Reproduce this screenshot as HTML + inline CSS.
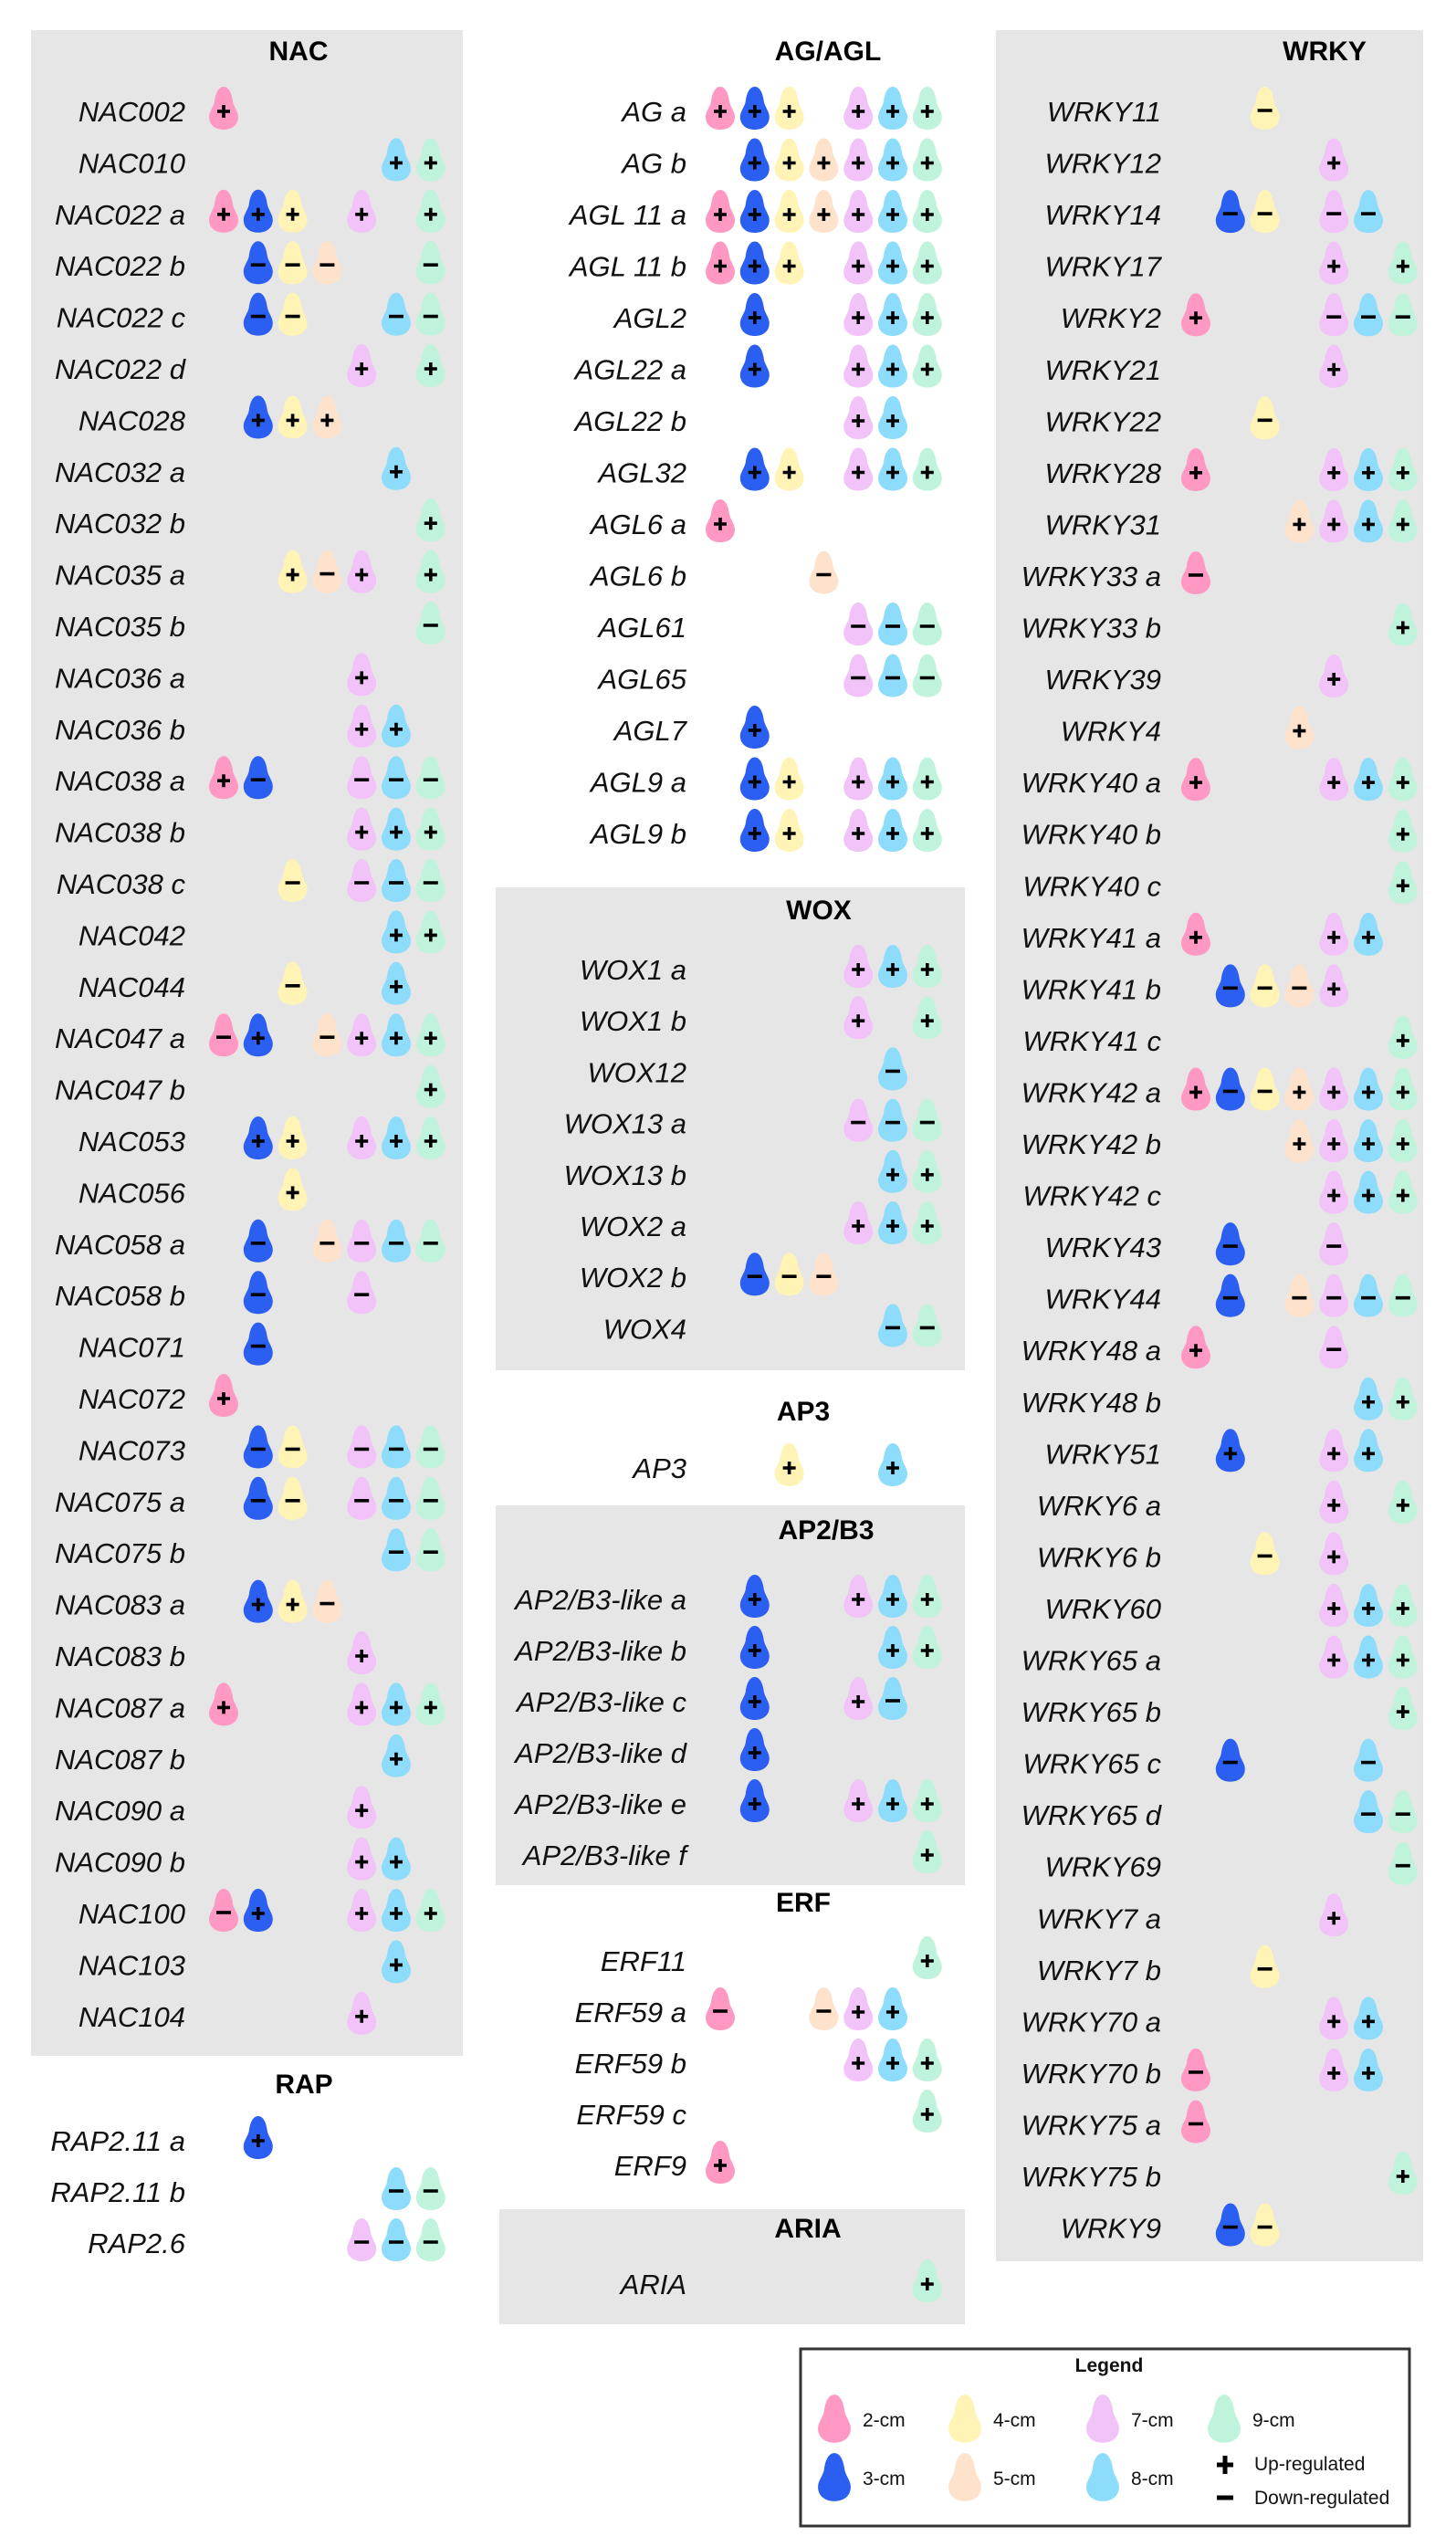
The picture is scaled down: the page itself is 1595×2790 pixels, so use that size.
<!DOCTYPE html>
<html><head><meta charset="utf-8">
<style>
html,body{margin:0;padding:0;background:#fff;}
svg{display:block;}
.lab{font-family:"Liberation Sans",Arial,sans-serif;font-style:italic;font-size:31px;fill:#111;}
.ttl{font-family:"Liberation Sans",Arial,sans-serif;font-weight:bold;font-size:30px;fill:#000;}
.lg{font-family:"Liberation Sans",Arial,sans-serif;font-size:21px;fill:#111;}
</style></head>
<body>
<svg id="fig" width="1595" height="2790" viewBox="0 0 1595 2790" xmlns="http://www.w3.org/2000/svg">
<g id="panels"></g>
<g id="content"></g>
<g id="legend"></g>
</svg>
<script>
// ---- data ----
const stages = ["2","3","4","5","7","8","9"];
const stageColors = ["#ff99c4","#2b5ff2","#fff4b5","#ffe2cc","#f1c3f8","#8edcfb","#bff3dc"];
const nacGenes = ["NAC002","NAC010","NAC022 a","NAC022 b","NAC022 c","NAC022 d","NAC028","NAC032 a","NAC032 b","NAC035 a","NAC035 b","NAC036 a","NAC036 b","NAC038 a","NAC038 b","NAC038 c","NAC042","NAC044","NAC047 a","NAC047 b","NAC053","NAC056","NAC058 a","NAC058 b","NAC071","NAC072","NAC073","NAC075 a","NAC075 b","NAC083 a","NAC083 b","NAC087 a","NAC087 b","NAC090 a","NAC090 b","NAC100","NAC103","NAC104"];
const nacCalls = ["2+","8+ 9+","2+ 3+ 4+ 7+ 9+","3- 4- 5- 9-","3- 4- 8- 9-","7+ 9+","3+ 4+ 5+","8+","9+","4+ 5- 7+ 9+","9-","7+","7+ 8+","2+ 3- 7- 8- 9-","7+ 8+ 9+","4- 7- 8- 9-","8+ 9+","4- 8+","2- 3+ 5- 7+ 8+ 9+","9+","3+ 4+ 7+ 8+ 9+","4+","3- 5- 7- 8- 9-","3- 7-","3-","2+","3- 4- 7- 8- 9-","3- 4- 7- 8- 9-","8- 9-","3+ 4+ 5-","7+","2+ 7+ 8+ 9+","8+","7+","7+ 8+","2- 3+ 7+ 8+ 9+","8+","7+"];
const rapGenes = ["RAP2.11 a","RAP2.11 b","RAP2.6"];
const rapCalls = ["3+","8- 9-","7- 8- 9-"];
const agGenes = ["AG a","AG b","AGL 11 a","AGL 11 b","AGL2","AGL22 a","AGL22 b","AGL32","AGL6 a","AGL6 b","AGL61","AGL65","AGL7","AGL9 a","AGL9 b"];
const agCalls = ["2+ 3+ 4+ 7+ 8+ 9+","3+ 4+ 5+ 7+ 8+ 9+","2+ 3+ 4+ 5+ 7+ 8+ 9+","2+ 3+ 4+ 7+ 8+ 9+","3+ 7+ 8+ 9+","3+ 7+ 8+ 9+","7+ 8+","3+ 4+ 7+ 8+ 9+","2+","5-","7- 8- 9-","7- 8- 9-","3+","3+ 4+ 7+ 8+ 9+","3+ 4+ 7+ 8+ 9+"];
const woxGenes = ["WOX1 a","WOX1 b","WOX12","WOX13 a","WOX13 b","WOX2 a","WOX2 b","WOX4"];
const woxCalls = ["7+ 8+ 9+","7+ 9+","8-","7- 8- 9-","8+ 9+","7+ 8+ 9+","3- 4- 5-","8- 9-"];
const ap3Genes = ["AP3"];
const ap3Calls = ["4+ 8+"];
const ap2Genes = ["AP2/B3-like a","AP2/B3-like b","AP2/B3-like c","AP2/B3-like d","AP2/B3-like e","AP2/B3-like f"];
const ap2Calls = ["3+ 7+ 8+ 9+","3+ 8+ 9+","3+ 7+ 8-","3+","3+ 7+ 8+ 9+","9+"];
const erfGenes = ["ERF11","ERF59 a","ERF59 b","ERF59 c","ERF9"];
const erfCalls = ["9+","2- 5- 7+ 8+","7+ 8+ 9+","9+","2+"];
const ariaGenes = ["ARIA"];
const ariaCalls = ["9+"];
const wrkyGenes = ["WRKY11","WRKY12","WRKY14","WRKY17","WRKY2","WRKY21","WRKY22","WRKY28","WRKY31","WRKY33 a","WRKY33 b","WRKY39","WRKY4","WRKY40 a","WRKY40 b","WRKY40 c","WRKY41 a","WRKY41 b","WRKY41 c","WRKY42 a","WRKY42 b","WRKY42 c","WRKY43","WRKY44","WRKY48 a","WRKY48 b","WRKY51","WRKY6 a","WRKY6 b","WRKY60","WRKY65 a","WRKY65 b","WRKY65 c","WRKY65 d","WRKY69","WRKY7 a","WRKY7 b","WRKY70 a","WRKY70 b","WRKY75 a","WRKY75 b","WRKY9"];
const wrkyCalls = ["4-","7+","3- 4- 7- 8-","7+ 9+","2+ 7- 8- 9-","7+","4-","2+ 7+ 8+ 9+","5+ 7+ 8+ 9+","2-","9+","7+","5+","2+ 7+ 8+ 9+","9+","9+","2+ 7+ 8+","3- 4- 5- 7+","9+","2+ 3- 4- 5+ 7+ 8+ 9+","5+ 7+ 8+ 9+","7+ 8+ 9+","3- 7-","3- 5- 7- 8- 9-","2+ 7-","8+ 9+","3+ 7+ 8+","7+ 9+","4- 7+","7+ 8+ 9+","7+ 8+ 9+","9+","3- 8-","8- 9-","9-","7+","4-","7+ 8+","2- 7+ 8+","2-","9+","3- 4-"];

// ---- layout ----
const NS="http://www.w3.org/2000/svg";
const panelsG=document.getElementById('panels');
const contentG=document.getElementById('content');
const DROP="M0,-24 C6,-24 9,-16 10,-8 C11,-2 16,3 16,9 C16,18 9,23 0,23 C-9,23 -16,18 -16,9 C-16,3 -11,-2 -10,-8 C-9,-16 -6,-24 0,-24 Z";
function mk(tag,attrs,parent){const e=document.createElementNS(NS,tag);for(const k in attrs)e.setAttribute(k,attrs[k]);parent.appendChild(e);return e;}
function rect(x,y,w,h,name){const r=mk('rect',{x:x,y:y,width:w,height:h,fill:'#e6e6e6'},panelsG);

}
function drop(g,cx,cy,color,sign,s){
  const d=mk('g',{transform:`translate(${cx},${cy}) scale(${s||1})`},g);
  
  
  mk('path',{d:DROP,fill:color},d);
  if(sign==='+'){mk('path',{d:'M-7,3 H7 M0,-4 V10',stroke:'#000','stroke-width':3.6,fill:'none'},d);}
  else if(sign==='-'){mk('path',{d:'M-8,2 H8',stroke:'#000','stroke-width':3.6,fill:'none'},d);}
  return d;
}
function colX(x0,stage){return x0+stages.indexOf(stage)*37.8;}
function section(name,title,tx,ty,genes,calls,labelRight,x0,y0,pitch){
  const g=mk('g',{},contentG);
  
  
  const t=mk('text',{x:tx,y:ty+11,'text-anchor':'middle',class:'ttl'},g);
  
  
  t.textContent=title;
  genes.forEach((gn,i)=>{
    const y=y0+i*pitch;
    const l=mk('text',{x:labelRight,y:y+11,'text-anchor':'end',class:'lab'},g);
    
    
    l.textContent=gn;
    calls[i].split(' ').filter(Boolean).forEach(c=>{
      const st=c.slice(0,-1),sg=c.slice(-1);
      drop(g,colX(x0,st),y-3,stageColors[stages.indexOf(st)],sg);
    });
  });
}
rect(34,33,473,2219,'nac-panel');
rect(1091,33,468,2444,'wrky-panel');
rect(543,972,514,529,'wox-panel');
rect(543,1649,514,416,'ap2-panel');
rect(547,2420,510,126,'aria-panel');

section('nac','NAC',327,55,nacGenes,nacCalls,203,245,122,56.4);
section('rap','RAP',333,2282,rapGenes,rapCalls,203,245,2345,56);
section('ag','AG/AGL',907,55,agGenes,agCalls,752,789,122,56.5);
section('wox','WOX',897,996,woxGenes,woxCalls,752,789,1062,56.2);
section('ap3','AP3',880,1545,ap3Genes,ap3Calls,752,789,1608,56);
section('ap2','AP2/B3',905,1675,ap2Genes,ap2Calls,752,789,1752,56);
section('erf','ERF',880,2083,erfGenes,erfCalls,752,789,2148,56);
section('aria','ARIA',885,2440,ariaGenes,ariaCalls,752,789,2502,56);
section('wrky','WRKY',1451,55,wrkyGenes,wrkyCalls,1272,1310,122,56.55);

// legend
const L=document.getElementById('legend');
const lb=mk('rect',{x:877,y:2573,width:667,height:194,fill:'#fff',stroke:'#333','stroke-width':3},L);


const lt=mk('text',{x:1215,y:2598,'text-anchor':'middle',class:'lg','font-weight':'bold'},L);


lt.textContent='Legend';
const legendItems=[["2",914,2650],["3",914,2714],["4",1057,2650],["5",1057,2714],["7",1208,2650],["8",1208,2714],["9",1341,2650]];
legendItems.forEach(it=>{
  const gi=mk('g',{},L);
  
  
  drop(gi,it[1],it[2],stageColors[stages.indexOf(it[0])],'',1.12);
  const tx=mk('text',{x:it[1]+31,y:it[2]+8,class:'lg'},gi);
  tx.textContent=it[0]+'-cm';
});
const up=mk('g',{},L);


mk('path',{d:'M1333,2700 H1351 M1342,2690 V2710',stroke:'#000','stroke-width':5,fill:'none'},up);
const ut=mk('text',{x:1374,y:2706,class:'lg'},up); ut.textContent='Up-regulated';
const dn=mk('g',{},L);


mk('path',{d:'M1333,2736 H1351',stroke:'#000','stroke-width':5,fill:'none'},dn);
const dt=mk('text',{x:1374,y:2743,class:'lg'},dn); dt.textContent='Down-regulated';
</script>
</body></html>
